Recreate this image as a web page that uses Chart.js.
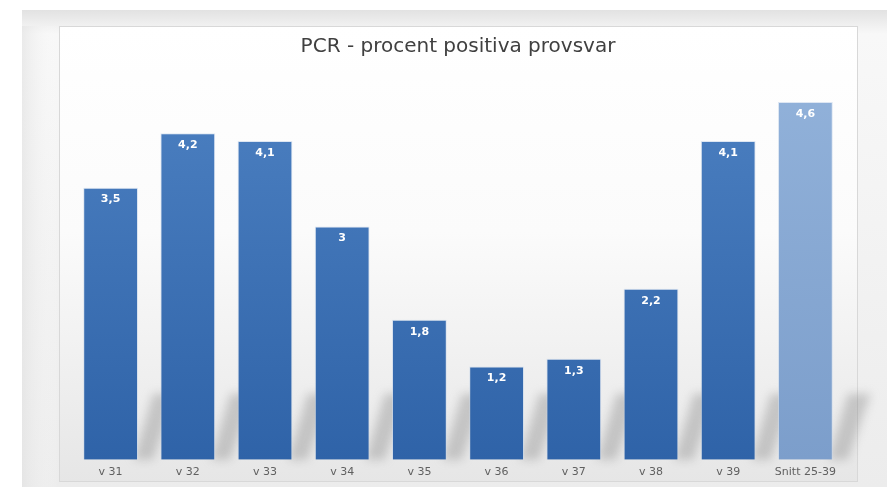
<!DOCTYPE html>
<html>
<head>
<meta charset="utf-8">
<script src="https://cdn.jsdelivr.net/npm/chart.js@4"></script>
<style>
  html, body { margin: 0; padding: 0; background: #fff; }
  #wrap { width: 887px; height: 487px; }
</style>
</head>
<body>
<div id="wrap"><canvas id="pcrChart" width="887" height="487"></canvas></div>
<script>
// data
const weeks = ["v 31", "v 32", "v 33", "v 34", "v 35", "v 36", "v 37", "v 38", "v 39", "Snitt 25-39"];
const positivePct = [3.5, 4.2, 4.1, 3, 1.8, 1.2, 1.3, 2.2, 4.1, 4.6];
const chartTitle = "PCR - procent positiva provsvar";

const avgIndex = weeks.length - 1;

// page + panel background, and the soft floor shadows behind bars
const backdrop = {
  id: "backdrop",
  beforeDraw(chart) {
    const ctx = chart.ctx;
    const W = chart.width, H = chart.height;
    ctx.save();
    ctx.fillStyle = "#ffffff";
    ctx.fillRect(0, 0, W, H);

    // outer gray frame
    let g = ctx.createLinearGradient(0, 10, 0, H);
    g.addColorStop(0, "#e2e2e2");
    g.addColorStop(0.05, "#f8f8f8");
    g.addColorStop(1, "#ececec");
    ctx.fillStyle = g;
    ctx.fillRect(22, 10, W - 22, H - 10);
    g = ctx.createLinearGradient(22, 0, 59, 0);
    g.addColorStop(0, "rgba(225,225,225,0.6)");
    g.addColorStop(1, "rgba(255,255,255,0)");
    ctx.fillStyle = g;
    ctx.fillRect(22, 26, 37, H - 26);

    // panel
    g = ctx.createLinearGradient(0, 26, 0, 482);
    g.addColorStop(0, "#ffffff");
    g.addColorStop(0.45, "#fbfbfb");
    g.addColorStop(1, "#e6e6e6");
    ctx.fillStyle = g;
    ctx.fillRect(59.5, 26.5, 798, 455);
    ctx.strokeStyle = "#d8d8d8";
    ctx.lineWidth = 1;
    ctx.strokeRect(59.5, 26.5, 798, 455);

    // diagonal shadows cast by the bars
    const meta = chart.getDatasetMeta(0);
    const base = chart.scales.y.getPixelForValue(0);
    ctx.filter = "blur(5px)";
    ctx.fillStyle = "rgba(135,135,135,0.38)";
    meta.data.forEach(bar => {
      const x1 = bar.x + bar.width / 2;
      ctx.beginPath();
      ctx.moveTo(x1 - 4, base);
      ctx.lineTo(x1 + 15, base);
      ctx.lineTo(x1 + 38, base - 66);
      ctx.lineTo(x1 + 15, base - 66);
      ctx.closePath();
      ctx.fill();
    });
    ctx.restore();
  }
};

// value labels inside the top of each bar
const barValues = {
  id: "barValues",
  afterDatasetsDraw(chart) {
    const ctx = chart.ctx;
    const meta = chart.getDatasetMeta(0);
    ctx.save();
    ctx.font = "bold 11px Verdana, 'DejaVu Sans', sans-serif";
    ctx.fillStyle = "#ffffff";
    ctx.textAlign = "center";
    ctx.textBaseline = "middle";
    meta.data.forEach((bar, i) => {
      const txt = String(positivePct[i]).replace(".", ",");
      ctx.fillText(txt, bar.x, bar.y + 12);
    });
    ctx.restore();
  }
};

function barFill(context) {
  const area = context.chart.chartArea;
  if (!area) return "#3f72b5";
  const g = context.chart.ctx.createLinearGradient(0, area.top, 0, area.bottom);
  if (context.dataIndex === avgIndex) {
    g.addColorStop(0, "#92b2da");
    g.addColorStop(1, "#7c9ecb");
  } else {
    g.addColorStop(0, "#4d81c2");
    g.addColorStop(1, "#2f63a8");
  }
  return g;
}

new Chart(document.getElementById("pcrChart"), {
  type: "bar",
  data: {
    labels: weeks,
    datasets: [{
      label: chartTitle,
      data: positivePct,
      backgroundColor: barFill,
      borderColor: "rgba(200,215,235,0.6)",
      borderWidth: 1,
      categoryPercentage: 1,
      barPercentage: 0.71
    }]
  },
  options: {
    responsive: false,
    animation: false,
    layout: {
      padding: { left: 72, right: 43, top: 0, bottom: 2 }
    },
    plugins: {
      legend: { display: false },
      tooltip: { enabled: false },
      title: {
        display: true,
        text: chartTitle,
        color: "#404040",
        font: { family: "Verdana, 'DejaVu Sans', sans-serif", size: 20, weight: "normal" },
        padding: { top: 35, bottom: 12 }
      }
    },
    scales: {
      x: {
        grid: { display: false, drawTicks: false },
        border: { display: false },
        ticks: {
          color: "#606060",
          font: { family: "Verdana, 'DejaVu Sans', sans-serif", size: 11 },
          padding: 6,
          maxRotation: 0
        }
      },
      y: {
        display: false,
        min: 0,
        max: 5
      }
    }
  },
  plugins: [backdrop, barValues]
});
</script>
</body>
</html>
